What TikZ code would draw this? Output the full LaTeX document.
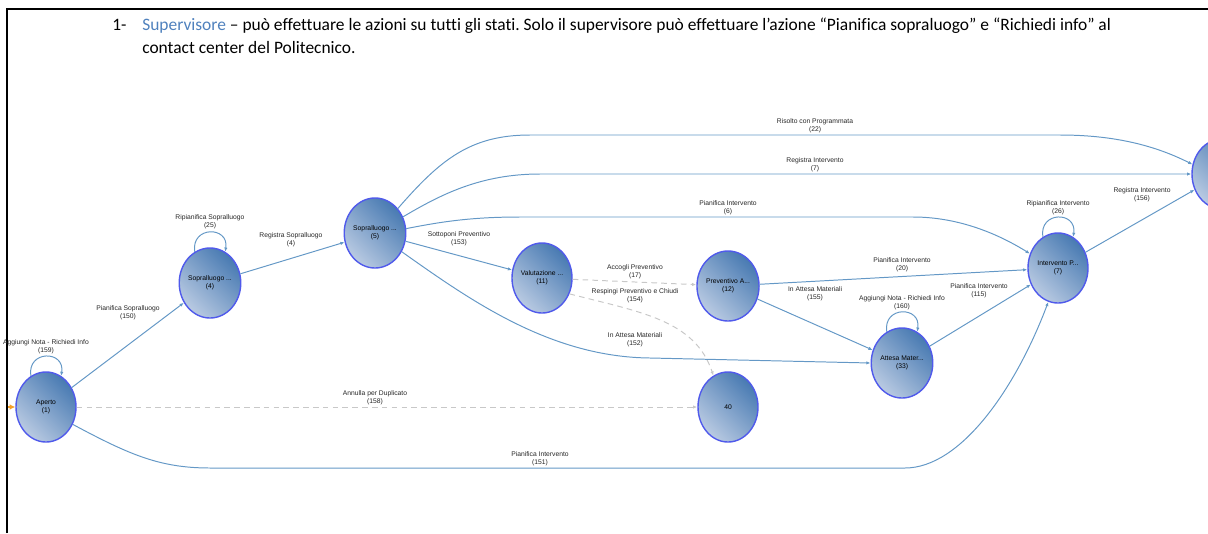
\documentclass[tikz,border=0pt]{standalone}
\usepackage{fontspec}
\setmainfont{Carlito}[Ligatures=NoCommon]
\newfontfamily\diagfont{Liberation Sans}
\usepackage{tikz}
\usetikzlibrary{arrows.meta, positioning, shapes.geometric}
\frenchspacing

\definecolor{edgeblue}{RGB}{100,152,198}
\definecolor{stateborder}{RGB}{80,90,235}
\definecolor{statedark}{RGB}{72,122,178}
\definecolor{statelight}{RGB}{185,202,226}
\definecolor{skipgray}{RGB}{200,200,200}
\definecolor{supblue}{RGB}{79,129,189}
\definecolor{startorange}{RGB}{245,160,40}

\begin{document}
\begin{tikzpicture}[
            x=0.025cm, y=-0.025cm,
            state/.style={ellipse, draw=stateborder, line width=1pt,
                top color=statedark, bottom color=statelight, shading angle=-45,
                minimum width=1.5cm, minimum height=1.75cm, inner sep=0pt,
                align=center, text=black, font=\diagfont\fontsize{4.8}{6}\selectfont},
            edge/.style={-{Latex[length=3pt, width=2.4pt]}, draw=edgeblue, line width=0.7pt},
            skip/.style={-{Latex[length=3pt, width=2.4pt]}, draw=skipgray, line width=0.7pt,
                dash pattern=on 4pt off 3pt},
            action/.style={font=\diagfont\fontsize{4.8}{6}\selectfont, align=center,
                inner sep=0pt, text=black!85}
        ]
        \useasboundingbox (0,0) rectangle (1208,533);

        % Frame and heading
        \draw[line width=0.8pt] (7,533) -- (7,9) -- (1208,9);
        \node[anchor=base west, inner sep=0pt, font=\fontsize{12.4}{16}\selectfont] (num) at (112,30) {1-};
        \node[anchor=base west, inner sep=0pt, font=\fontsize{12.4}{16}\selectfont] (intro) at (142,30)
            {\textcolor{supblue}{Supervisore} – può effettuare le azioni su tutti gli stati. Solo il supervisore può effettuare l’azione “Pianifica sopraluogo” e “Richiedi info” al};
        \node[anchor=base west, inner sep=0pt, font=\fontsize{12.4}{16}\selectfont] (introcont) at (142,53)
            {contact center del Politecnico.};

        % States (manual layout to match figure)
        \node[state] (aperto) at (46,407) {Aperto\\(1)};
        \node[state] (sop4) at (210,283) {Sopralluogo ...\\(4)};
        \node[state] (sop5) at (375,233) {Sopralluogo ...\\(5)};
        \node[state] (valut) at (542,278) {Valutazione ...\\(11)};
        \node[state] (prev) at (728,286) {Preventivo A...\\(12)};
        \node[state] (attesa) at (902,363) {Attesa Mater...\\(33)};
        \node[state] (interv) at (1058,268) {Intervento P...\\(7)};
        \node[state] (chiuso) at (728,407) {40};
        \node[state] (risolto) at (1222,174) {};

        % Start marker
        \coordinate (init) at (8,407);
        \draw[-{Latex[length=4pt, width=4pt]}, draw=startorange, line width=0.8pt] (init) -- (aperto);

        % Self loops
        \draw[edge] (aperto.116) .. controls +(-4,-26) and +(4,-26) .. (aperto.64)
            node[action] at (46,347) {Aggiungi Nota - Richiedi Info\\(159)};
        \draw[edge] (sop4.116) .. controls +(-4,-26) and +(4,-26) .. (sop4.64)
            node[action] at (210,222) {Ripianifica Sopralluogo\\(25)};
        \draw[edge] (attesa.116) .. controls +(-4,-26) and +(4,-26) .. (attesa.64)
            node[action] at (902,303) {Aggiungi Nota - Richiedi Info\\(160)};
        \draw[edge] (interv.116) .. controls +(-4,-26) and +(4,-26) .. (interv.64)
            node[action] at (1058,208) {Ripianifica Intervento\\(26)};

        % Transitions
        \draw[edge] (aperto) -- (sop4) node[action] at (128,313) {Pianifica Sopralluogo\\(150)};
        \draw[edge] (sop4) -- (sop5) node[action] at (291,240) {Registra Sopralluogo\\(4)};
        \draw[edge] (sop5) -- (valut) node[action] at (459,239) {Sottoponi Preventivo\\(153)};
        \draw[skip] (valut) -- (prev) node[action] at (635,272) {Accogli Preventivo\\(17)};
        \draw[skip] (valut.-30) .. controls (640,312) and (695,320) .. (chiuso.115)
            node[action] at (635,296) {Respingi Preventivo e Chiudi\\(154)};
        \draw[skip] (aperto) -- (chiuso) node[action] at (375,398) {Annulla per Duplicato\\(158)};

        \draw[edge] (sop5.47) .. controls (440,160) and (470,135) .. (530,135) -- (1060,135)
            .. controls (1120,135) and (1160,148) .. (risolto.162)
            node[action] at (815,126) {Risolto con Programmata\\(22)};
        \draw[edge] (sop5.30) .. controls (440,195) and (480,174) .. (540,174) -- (risolto.west)
            node[action] at (815,165) {Registra Intervento\\(7)};
        \draw[edge] (sop5.8) .. controls (440,222) and (470,217) .. (520,217) -- (913,217)
            .. controls (960,217) and (1000,235) .. (interv.153)
            node[action] at (728,208) {Pianifica Intervento\\(6)};
        \draw[edge] (sop5.-35) .. controls (470,300) and (550,357) .. (650,358) -- (attesa.west)
            node[action] at (635,340) {In Attesa Materiali\\(152)};
        \draw[edge] (aperto.-33) .. controls (130,455) and (160,468) .. (210,468) -- (905,468)
            .. controls (960,468) and (1015,390) .. (interv.-106)
            node[action] at (540,459) {Pianifica Intervento\\(151)};

        \draw[edge] (prev) -- (interv) node[action] at (902,265) {Pianifica Intervento\\(20)};
        \draw[edge] (prev) -- (attesa) node[action] at (815,294) {In Attesa Materiali\\(155)};
        \draw[edge] (attesa) -- (interv) node[action] at (979,291) {Pianifica Intervento\\(115)};
        \draw[edge] (interv) -- (risolto) node[action] at (1142,195) {Registra Intervento\\(156)};

    \end{tikzpicture}
\end{document}
